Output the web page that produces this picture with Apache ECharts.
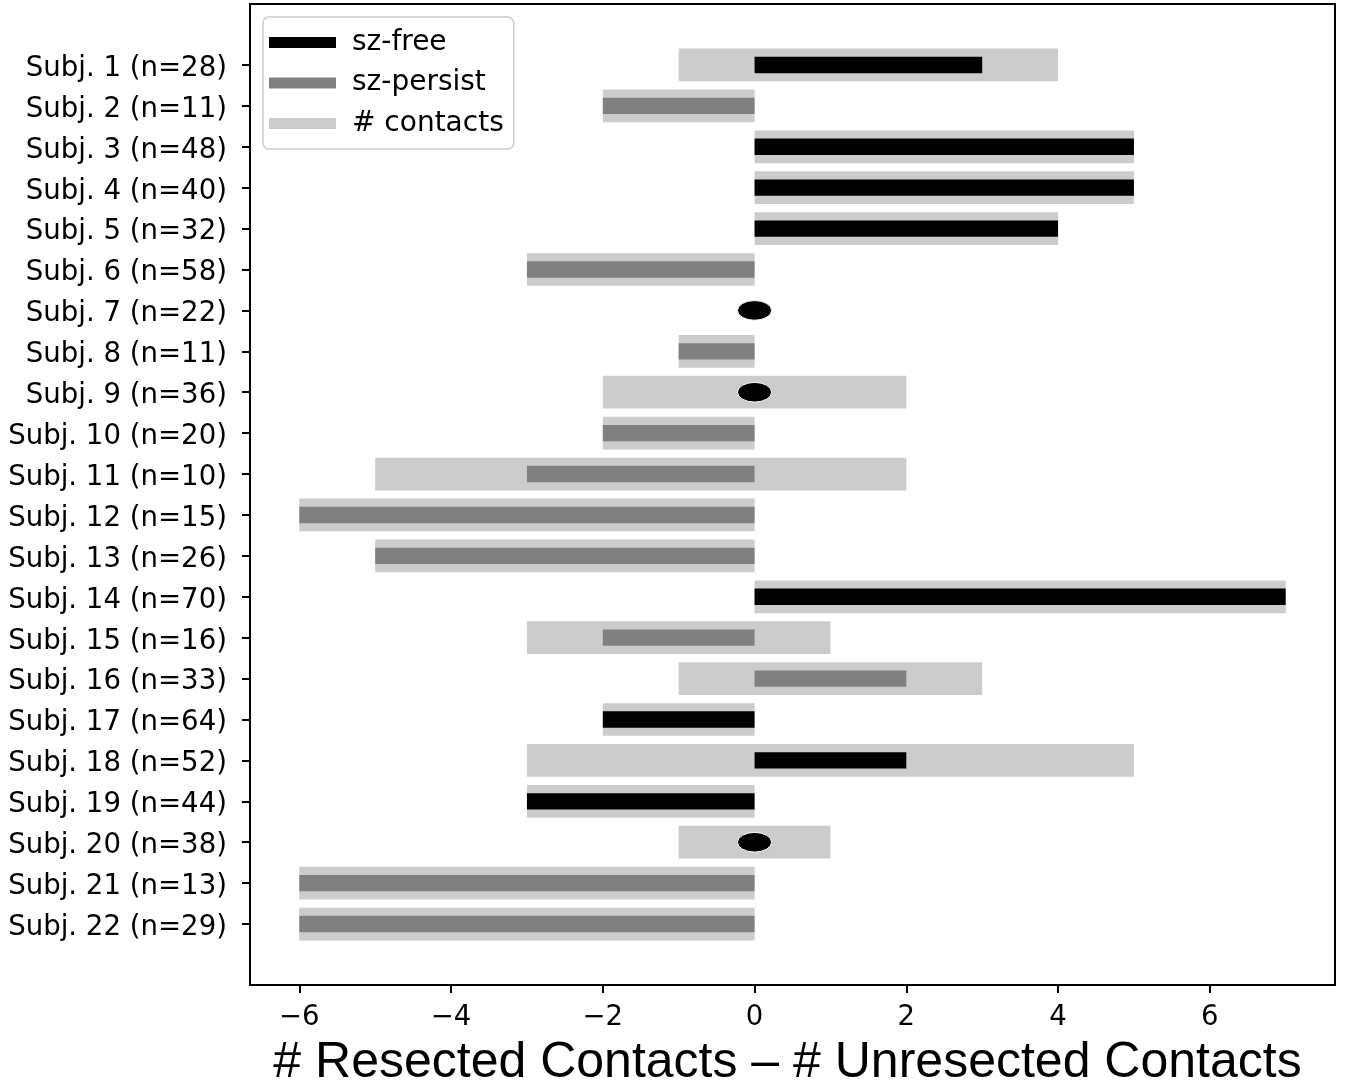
<!DOCTYPE html>
<html>
<head>
<meta charset="utf-8">
<script src="https://cdn.jsdelivr.net/npm/echarts@6/dist/echarts.min.js"></script>
<style>html,body{margin:0;padding:0;background:#fff;}#c{width:1346px;height:1088px;}</style>
</head>
<body>
<div id="c"></div>
<script>
const categories = ['Subj. 1 (n=28)','Subj. 2 (n=11)','Subj. 3 (n=48)','Subj. 4 (n=40)','Subj. 5 (n=32)','Subj. 6 (n=58)','Subj. 7 (n=22)','Subj. 8 (n=11)','Subj. 9 (n=36)','Subj. 10 (n=20)','Subj. 11 (n=10)','Subj. 12 (n=15)','Subj. 13 (n=26)','Subj. 14 (n=70)','Subj. 15 (n=16)','Subj. 16 (n=33)','Subj. 17 (n=64)','Subj. 18 (n=52)','Subj. 19 (n=44)','Subj. 20 (n=38)','Subj. 21 (n=13)','Subj. 22 (n=29)'];
const contactsLow  = [-1,-2,0,0,0,-3,0,-1,-2,-2,-5,-6,-5,0,-3,-1,-2,-3,-3,-1,-6,-6];
const contactsHigh = [4,0,5,5,4,0,0,0,2,0,2,0,0,7,1,3,0,5,0,1,0,0];
const outcome = ['free','persist','free','free','free','persist','free','persist','free','persist','persist','persist','persist','free','persist','persist','free','free','free','free','persist','persist'];
const difference = [3,-2,5,5,4,-3,0,-1,0,-2,-3,-6,-5,7,-2,2,-2,2,-3,0,-6,-6];
const xTicks = [-6,-4,-2,0,2,4,6];

const yTicks = categories.map((c, i) => i);
// label anchors nudged slightly below each tick to match the reference text baseline
const yLabelPos = categories.map((c, i) => i + 0.09);
const contactsData = categories.map((c, i) => [i, contactsLow[i], contactsHigh[i]]);
const freeData = [], persistData = [];
categories.forEach((c, i) => {
  if (outcome[i] === 'free') freeData.push([i, difference[i]]);
  else persistData.push([i, difference[i]]);
});

function rectItem(params, api, lo, hi, half, color) {
  const idx = api.value(0);
  const p1 = api.coord([lo, idx - half]);
  const p2 = api.coord([hi, idx + half]);
  return {
    type: 'rect',
    shape: { x: Math.min(p1[0], p2[0]), y: Math.min(p1[1], p2[1]), width: Math.abs(p2[0] - p1[0]), height: Math.abs(p2[1] - p1[1]) },
    style: { fill: color }
  };
}

const chart = echarts.init(document.getElementById('c'));
chart.setOption({
  animation: false,
  backgroundColor: '#fff',
  grid: { left: 250, top: 4, width: 1085, height: 981, outerBoundsMode: 'none', containLabel: false,
    show: true, borderColor: '#000', borderWidth: 2, backgroundColor: 'transparent' },
  legend: {
    left: 263, top: 17, orient: 'vertical',
    data: [
      { name: 'sz-free', icon: 'rect', itemStyle: { color: '#000' } },
      { name: 'sz-persist', icon: 'rect', itemStyle: { color: '#808080' } },
      { name: '# contacts', icon: 'rect', itemStyle: { color: '#cccccc' } }
    ],
    itemWidth: 67, itemHeight: 11, itemGap: 9.5,
    padding: [10, 10, 10, 6],
    backgroundColor: 'rgba(255,255,255,0.8)',
    borderColor: '#cccccc', borderWidth: 1.5, borderRadius: 6,
    textStyle: { fontFamily: 'DejaVu Sans', fontSize: 28, color: '#000', lineHeight: 28, padding: [3, 0, 0, 11] },
    selectedMode: false
  },
  xAxis: {
    type: 'value', min: -6.65, max: 7.65,
    axisLine: { show: true, onZero: false, lineStyle: { color: '#000', width: 2 } },
    axisTick: { show: true, customValues: xTicks, length: 8, lineStyle: { color: '#000', width: 2 } },
    axisLabel: { customValues: xTicks, margin: 19, fontFamily: 'DejaVu Sans', fontSize: 27.5, color: '#000',
      formatter: v => (v < 0 ? '\u2212' + Math.abs(v) : String(v)) },
    splitLine: { show: false },
    name: '# Resected Contacts \u2013 # Unresected Contacts',
    nameLocation: 'middle', nameGap: 53,
    nameTextStyle: { fontFamily: 'Liberation Sans', fontSize: 50, color: '#000', padding: [0, 10, 0, 0] }
  },
  yAxis: {
    type: 'value', inverse: true, min: -1.49, max: 22.49,
    axisLine: { show: true, onZero: false, lineStyle: { color: '#000', width: 2 } },
    axisTick: { show: true, customValues: yTicks, length: 8, lineStyle: { color: '#000', width: 2 } },
    axisLabel: { customValues: yLabelPos, margin: 23, fontFamily: 'DejaVu Sans', fontSize: 27.6, color: '#000',
      formatter: v => categories[Math.round(v)] || '' },
    splitLine: { show: false }
  },
  series: [
    {
      name: '# contacts', type: 'custom', itemStyle: { color: '#cccccc' },
      encode: { x: [1, 2], y: 0 },
      data: contactsData,
      renderItem: (params, api) => rectItem(params, api, api.value(1), api.value(2), 0.4, '#cccccc')
    },
    {
      name: 'sz-persist', type: 'custom', itemStyle: { color: '#808080' },
      encode: { x: 1, y: 0 },
      data: persistData,
      renderItem: (params, api) => rectItem(params, api, 0, api.value(1), 0.2, '#808080')
    },
    {
      name: 'sz-free', type: 'custom', itemStyle: { color: '#000' },
      encode: { x: 1, y: 0 },
      data: freeData,
      renderItem: (params, api) => {
        const v = api.value(1);
        if (v === 0) {
          const idx = api.value(0);
          const c = api.coord([0, idx]);
          const s = api.size([0.225, 0.24]);
          const rx = s[0], ry = s[1];
          const d = 'M' + (c[0] - rx) + ' ' + c[1] + ' A' + rx + ' ' + ry + ' 0 1 0 ' + (c[0] + rx) + ' ' + c[1] +
                    ' A' + rx + ' ' + ry + ' 0 1 0 ' + (c[0] - rx) + ' ' + c[1] + ' Z';
          return { type: 'path', shape: { pathData: d }, style: { fill: '#000', stroke: '#fff', lineWidth: 1 } };
        }
        return rectItem(params, api, 0, v, 0.2, '#000');
      }
    }
  ]
});
</script>
</body>
</html>
